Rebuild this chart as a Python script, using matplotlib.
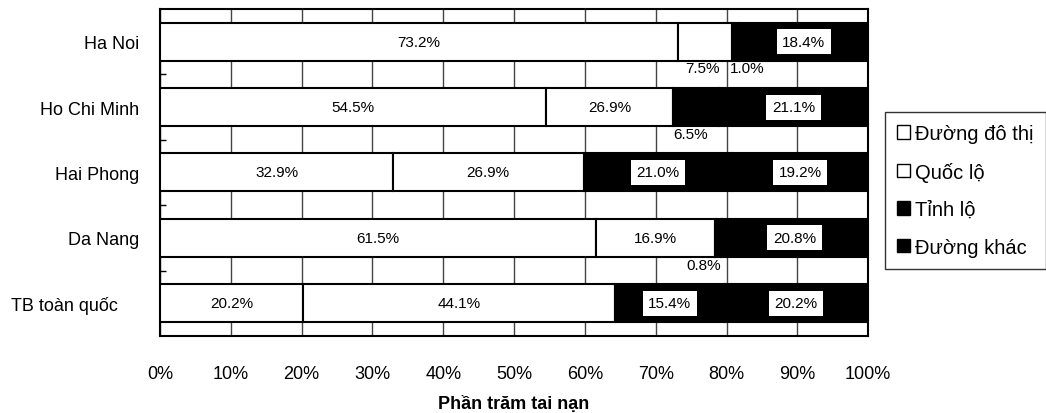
import numpy as np
import matplotlib.pyplot as plt
from matplotlib.patches import Patch
from matplotlib.transforms import ScaledTranslation

plt.rcParams['font.family'] = ['Liberation Sans', 'DejaVu Sans']
NARROW = ['Liberation Sans Narrow', 'Liberation Sans', 'DejaVu Sans']

cities = ['Ha Noi', 'Ho Chi Minh', 'Hai Phong', 'Da Nang', 'TB toàn quốc']
series = ['Đường đô thị', 'Quốc lộ', 'Tỉnh lộ', 'Đường khác']
colors = ['white', 'white', 'black', 'black']

# shares per road type
do_thi = [73.2, 54.5, 32.9, 61.5, 20.2]
quoc_lo = [7.5, 17.9, 26.9, 16.9, 44.1]
tinh_lo = [1.0, 6.5, 21.0, 0.8, 15.4]
khac = [18.4, 21.1, 19.2, 20.8, 20.2]

# label texts as printed on the chart
lbl_do_thi = ['73.2%', '54.5%', '32.9%', '61.5%', '20.2%']
lbl_quoc_lo = ['7.5%', '26.9%', '26.9%', '16.9%', '44.1%']
lbl_tinh_lo = ['1.0%', '6.5%', '21.0%', '0.8%', '15.4%']
lbl_khac = ['18.4%', '21.1%', '19.2%', '20.8%', '20.2%']

xticks = np.arange(0, 101, 10)

values = [do_thi, quoc_lo, tinh_lo, khac]
labels = [lbl_do_thi, lbl_quoc_lo, lbl_tinh_lo, lbl_khac]

fig = plt.figure(figsize=(10.46, 4.14), dpi=100)
ax = fig.add_axes([0.153, 0.186, 0.677, 0.790])

y = np.arange(len(cities))
bar_h = 0.58
left = np.zeros(len(cities))

# small segments get their label under the bar, nudged sideways a bit
below_nudge = {(0, 1): -0.3, (0, 2): 1.7, (1, 2): -0.8, (3, 2): -2.0}

for j, (vals, txts) in enumerate(zip(values, labels)):
    vals = np.array(vals)
    ax.barh(y, vals, left=left, height=bar_h, color=colors[j],
            edgecolor='black', linewidth=1.5, zorder=3)
    for i in range(len(cities)):
        cx = left[i] + vals[i] / 2
        if (i, j) in below_nudge:
            ax.text(cx + below_nudge[(i, j)], y[i] + bar_h / 2 + 0.12, txts[i],
                    ha='center', va='center', fontsize=11, family=NARROW, zorder=5)
        elif colors[j] == 'black':
            ax.text(cx, y[i], txts[i], ha='center', va='center', fontsize=11,
                    family=NARROW, zorder=5,
                    bbox=dict(facecolor='white', edgecolor='none', pad=4))
        else:
            ax.text(cx, y[i], txts[i], ha='center', va='center', fontsize=11,
                    family=NARROW, zorder=5)
    left = left + vals

ax.set_xlim(0, 100)
ax.set_ylim(len(cities) - 0.5, -0.5)

ax.set_xticks(xticks)
ax.set_xticklabels([f'{v}%' for v in xticks], family=NARROW, fontsize=13)
ax.tick_params(axis='x', length=0, pad=21)
ax.xaxis.grid(True, color='#444444', linewidth=1, zorder=0)
ax.set_axisbelow(True)

ax.set_yticks(y)
ax.set_yticklabels(cities, fontsize=13)
ax.set_yticks(y[:-1] + 0.5, minor=True)
ax.tick_params(axis='y', which='major', length=0, pad=15)
ax.tick_params(axis='y', which='minor', direction='in', length=4, width=1)

# the last label sits further left than the others
lab = ax.get_yticklabels()[-1]
lab.set_transform(lab.get_transform() + ScaledTranslation(-21 / 100, 0, fig.dpi_scale_trans))

for s in ax.spines.values():
    s.set_linewidth(1.5)
    s.set_color('black')

ax.set_xlabel('Phần trăm tai nạn', fontsize=13, fontweight='bold', family=NARROW, labelpad=9)

handles = [Patch(facecolor=c, edgecolor='black', linewidth=1) for c in colors]
leg = fig.legend(handles, series, loc='upper left',
                 bbox_to_anchor=(885 / 1046, 1 - 113 / 414), fontsize=14.5,
                 frameon=True, fancybox=False, edgecolor='black',
                 handlelength=0.65, handleheight=0.65, handletextpad=0.25,
                 labelspacing=0.92, borderpad=0.6, borderaxespad=0)
leg.get_frame().set_linewidth(1)

fig.savefig('out.png', dpi=100)
